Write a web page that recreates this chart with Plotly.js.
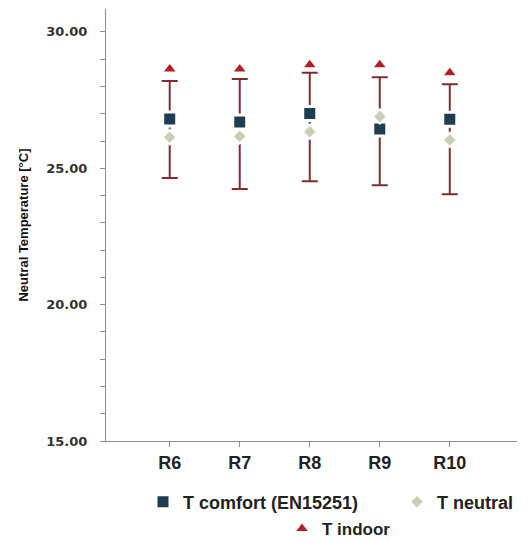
<!DOCTYPE html>
<html>
<head>
<meta charset="utf-8">
<script src="https://cdn.plot.ly/plotly-3.0.1.min.js"></script>
<style>html,body{margin:0;padding:0;background:#fff;}#chart{width:530px;height:542px;}</style>
</head>
<body>
<div id="chart"></div>
<script>
// ---- data ----
const categories = ["R6", "R7", "R8", "R9", "R10"];
const tComfort = [26.81, 26.70, 27.01, 26.44, 26.80];
const tNeutral = [26.14, 26.17, 26.34, 26.90, 26.04];
const tIndoor = [28.64, 28.64, 28.80, 28.80, 28.50];
const rangeLow = [24.64, 24.24, 24.52, 24.38, 24.05];
const rangeHigh = [28.20, 28.27, 28.50, 28.34, 28.08];
const yTickValues = [15, 16, 17, 18, 19, 20, 21, 22, 23, 24, 25, 26, 27, 28, 29, 30];
const yTickLabels = ["15.00", "", "", "", "", "20.00", "", "", "", "", "25.00", "", "", "", "", "30.00"];
const seriesNames = ["T comfort (EN15251)", "T neutral", "T indoor"];

const errTrace = {
  type: "scatter", mode: "markers", x: categories, y: rangeHigh,
  marker: {size: 1, color: "rgba(0,0,0,0)"},
  error_y: {type: "data", symmetric: false, array: rangeHigh.map(() => 0),
    arrayminus: rangeHigh.map((h, i) => h - rangeLow[i]),
    color: "#7E2E32", thickness: 2, width: 8},
  showlegend: false, hoverinfo: "skip"
};
const comfort = {
  type: "scatter", mode: "markers", name: seriesNames[0], x: categories, y: tComfort,
  marker: {symbol: "square", size: 14, color: "#1E3C52", line: {color: "#ffffff", width: 3}},
  legend: "legend"
};
const neutral = {
  type: "scatter", mode: "markers", name: seriesNames[1], x: categories, y: tNeutral,
  marker: {symbol: "diamond", size: 11, color: "#C9CEB5", line: {color: "#ffffff", width: 2}},
  legend: "legend3"
};
const indoor = {
  type: "scatter", mode: "markers", name: seriesNames[2], x: categories, y: tIndoor,
  marker: {symbol: "triangle-up", size: 10, color: "#B21E26"},
  legend: "legend2"
};

function mkLegend(xpx, ypx, fs) {
  return {
    orientation: "h", xref: "container", yref: "container",
    x: xpx / 530, xanchor: "left", y: 1 - ypx / 542, yanchor: "middle",
    font: {family: "Arial, Liberation Sans, sans-serif", size: fs, weight: "bold", color: "#222"},
    bgcolor: "rgba(0,0,0,0)"
  };
}

const layout = {
  width: 530, height: 542,
  margin: {l: 106, r: 13, t: 9, b: 101},
  paper_bgcolor: "#ffffff", plot_bgcolor: "#ffffff",
  font: {family: "Arial, Liberation Sans, sans-serif", color: "#222"},
  xaxis: {
    type: "category", range: [-0.91, 4.96],
    showline: true, linecolor: "#8c8c8c", linewidth: 1,
    ticks: "outside", ticklen: 5, tickcolor: "#8c8c8c",
    showgrid: false, zeroline: false,
    tickfont: {family: "Arial, Liberation Sans, sans-serif", size: 18, weight: "bold", color: "#222"}
  },
  yaxis: {
    range: [15, 30.84],
    tickvals: yTickValues, ticktext: yTickLabels,
    showline: true, linecolor: "#8c8c8c", linewidth: 1,
    ticks: "outside", ticklen: 5, tickcolor: "#8c8c8c",
    showgrid: false, zeroline: false, ticklabelstandoff: 10,
    tickfont: {family: "DejaVu Sans, sans-serif", size: 13, weight: "bold", color: "#333"},
    title: {text: "Neutral Temperature [°C]", standoff: 14,
      font: {family: "Arial, Liberation Sans, sans-serif", size: 13, weight: "bold", color: "#111"}}
  },
  legend: mkLegend(143, 502, 18),
  legend3: mkLegend(397, 502, 18),
  legend2: mkLegend(282, 529, 17),
  showlegend: true
};

Plotly.newPlot("chart", [errTrace, comfort, neutral, indoor], layout, {displayModeBar: false, staticPlot: true});
</script>
</body>
</html>
